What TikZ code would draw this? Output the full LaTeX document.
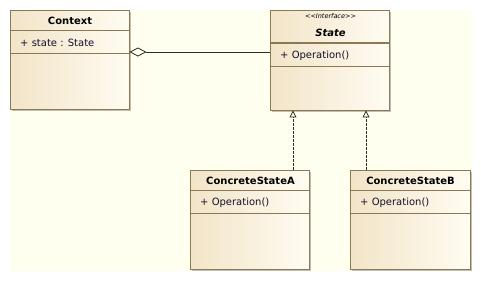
\documentclass[tikz,border=0pt]{standalone}
\usepackage{fontspec}
\setmainfont{DejaVu Sans}
\usetikzlibrary{arrows.meta,shadows}
\definecolor{canvas}{RGB}{255,255,240}
\definecolor{edge}{RGB}{140,120,83}
\definecolor{fillL}{RGB}{242,228,200}
\definecolor{fillR}{RGB}{255,252,242}
\definecolor{ink}{RGB}{20,16,40}
\definecolor{wire}{RGB}{50,42,30}

\tikzset{
  classbox/.style={draw=edge, line width=0.9pt, left color=fillL, right color=fillR,
    minimum width=119pt, minimum height=99pt, inner sep=0pt,
    drop shadow={shadow xshift=1.5pt, shadow yshift=-1.5pt, fill=black, opacity=0.25}},
  cname/.style={font=\bfseries\fontsize{10}{12}\selectfont, inner sep=0pt},
  member/.style={font=\fontsize{10}{12}\selectfont, text=ink, anchor=west, inner sep=0pt},
  stereo/.style={font=\itshape\fontsize{6.5}{8}\selectfont, inner sep=0pt},
  sep/.style={draw=edge, line width=0.9pt},
  realize/.style={draw=wire, line width=0.8pt, dash pattern=on 2.5pt off 1.5pt,
    -{Triangle[open, length=7pt, width=7pt, line width=0.8pt]}},
  aggregate/.style={draw=wire, line width=0.8pt,
    {Diamond[open, length=17pt, width=9pt, line width=0.8pt]}-}
}

\begin{document}
\begin{tikzpicture}[x=1pt, y=-1pt]
  \useasboundingbox (0,0) rectangle (481,281);
  \fill[canvas] (10,10) rectangle (472,271);

  % class boxes
  \node[classbox] (ctx) at (69.5,59.5) {};
  \node[classbox, minimum height=100pt] (st) at (329.5,60) {};
  \node[classbox] (a) at (249.5,219.5) {};
  \node[classbox, minimum width=120pt] (b) at (410,219.5) {};

  % compartments
  \draw[sep] ([yshift=-21pt]ctx.north west) -- ([yshift=-21pt]ctx.north east);
  \draw[sep] ([yshift=-44pt]ctx.north west) -- ([yshift=-44pt]ctx.north east);
  \draw[sep, line width=1.8pt] ([yshift=-33.5pt]st.north west) -- ([yshift=-33.5pt]st.north east);
  \draw[sep] ([yshift=-57pt]st.north west) -- ([yshift=-57pt]st.north east);
  \draw[sep] ([yshift=-21pt]a.north west) -- ([yshift=-21pt]a.north east);
  \draw[sep] ([yshift=-44pt]a.north west) -- ([yshift=-44pt]a.north east);
  \draw[sep] ([yshift=-21pt]b.north west) -- ([yshift=-21pt]b.north east);
  \draw[sep] ([yshift=-44pt]b.north west) -- ([yshift=-44pt]b.north east);

  % names and members
  \node[cname] (ctxname) at (70,20.5) {Context};
  \node[member] (ctxattr) at (20,42.5) {+ state : State};
  \node[stereo] (ststereo) at (330.5,16.5) {<{}<Interface>{}>};
  \node[cname, font=\bfseries\itshape\fontsize{10}{12}\selectfont] (stname) at (330.5,32.5) {State};
  \node[member] (stop) at (280,55.5) {+ Operation()};
  \node[cname] (aname) at (250.5,181) {ConcreteStateA};
  \node[member] (aop) at (200,203) {+ Operation()};
  \node[cname] (bname) at (410.5,181) {ConcreteStateB};
  \node[member] (bop) at (360,203) {+ Operation()};

  % relations
  \draw[aggregate] ([yshift=7.5pt]ctx.east) -- ([yshift=8pt]st.west);
  \draw[realize] ([xshift=43.5pt]a.north) -- ([xshift=43.5pt]a.north |- st.south);
  \draw[realize] ([xshift=-44pt]b.north) -- ([xshift=-44pt]b.north |- st.south);
\end{tikzpicture}
\end{document}
